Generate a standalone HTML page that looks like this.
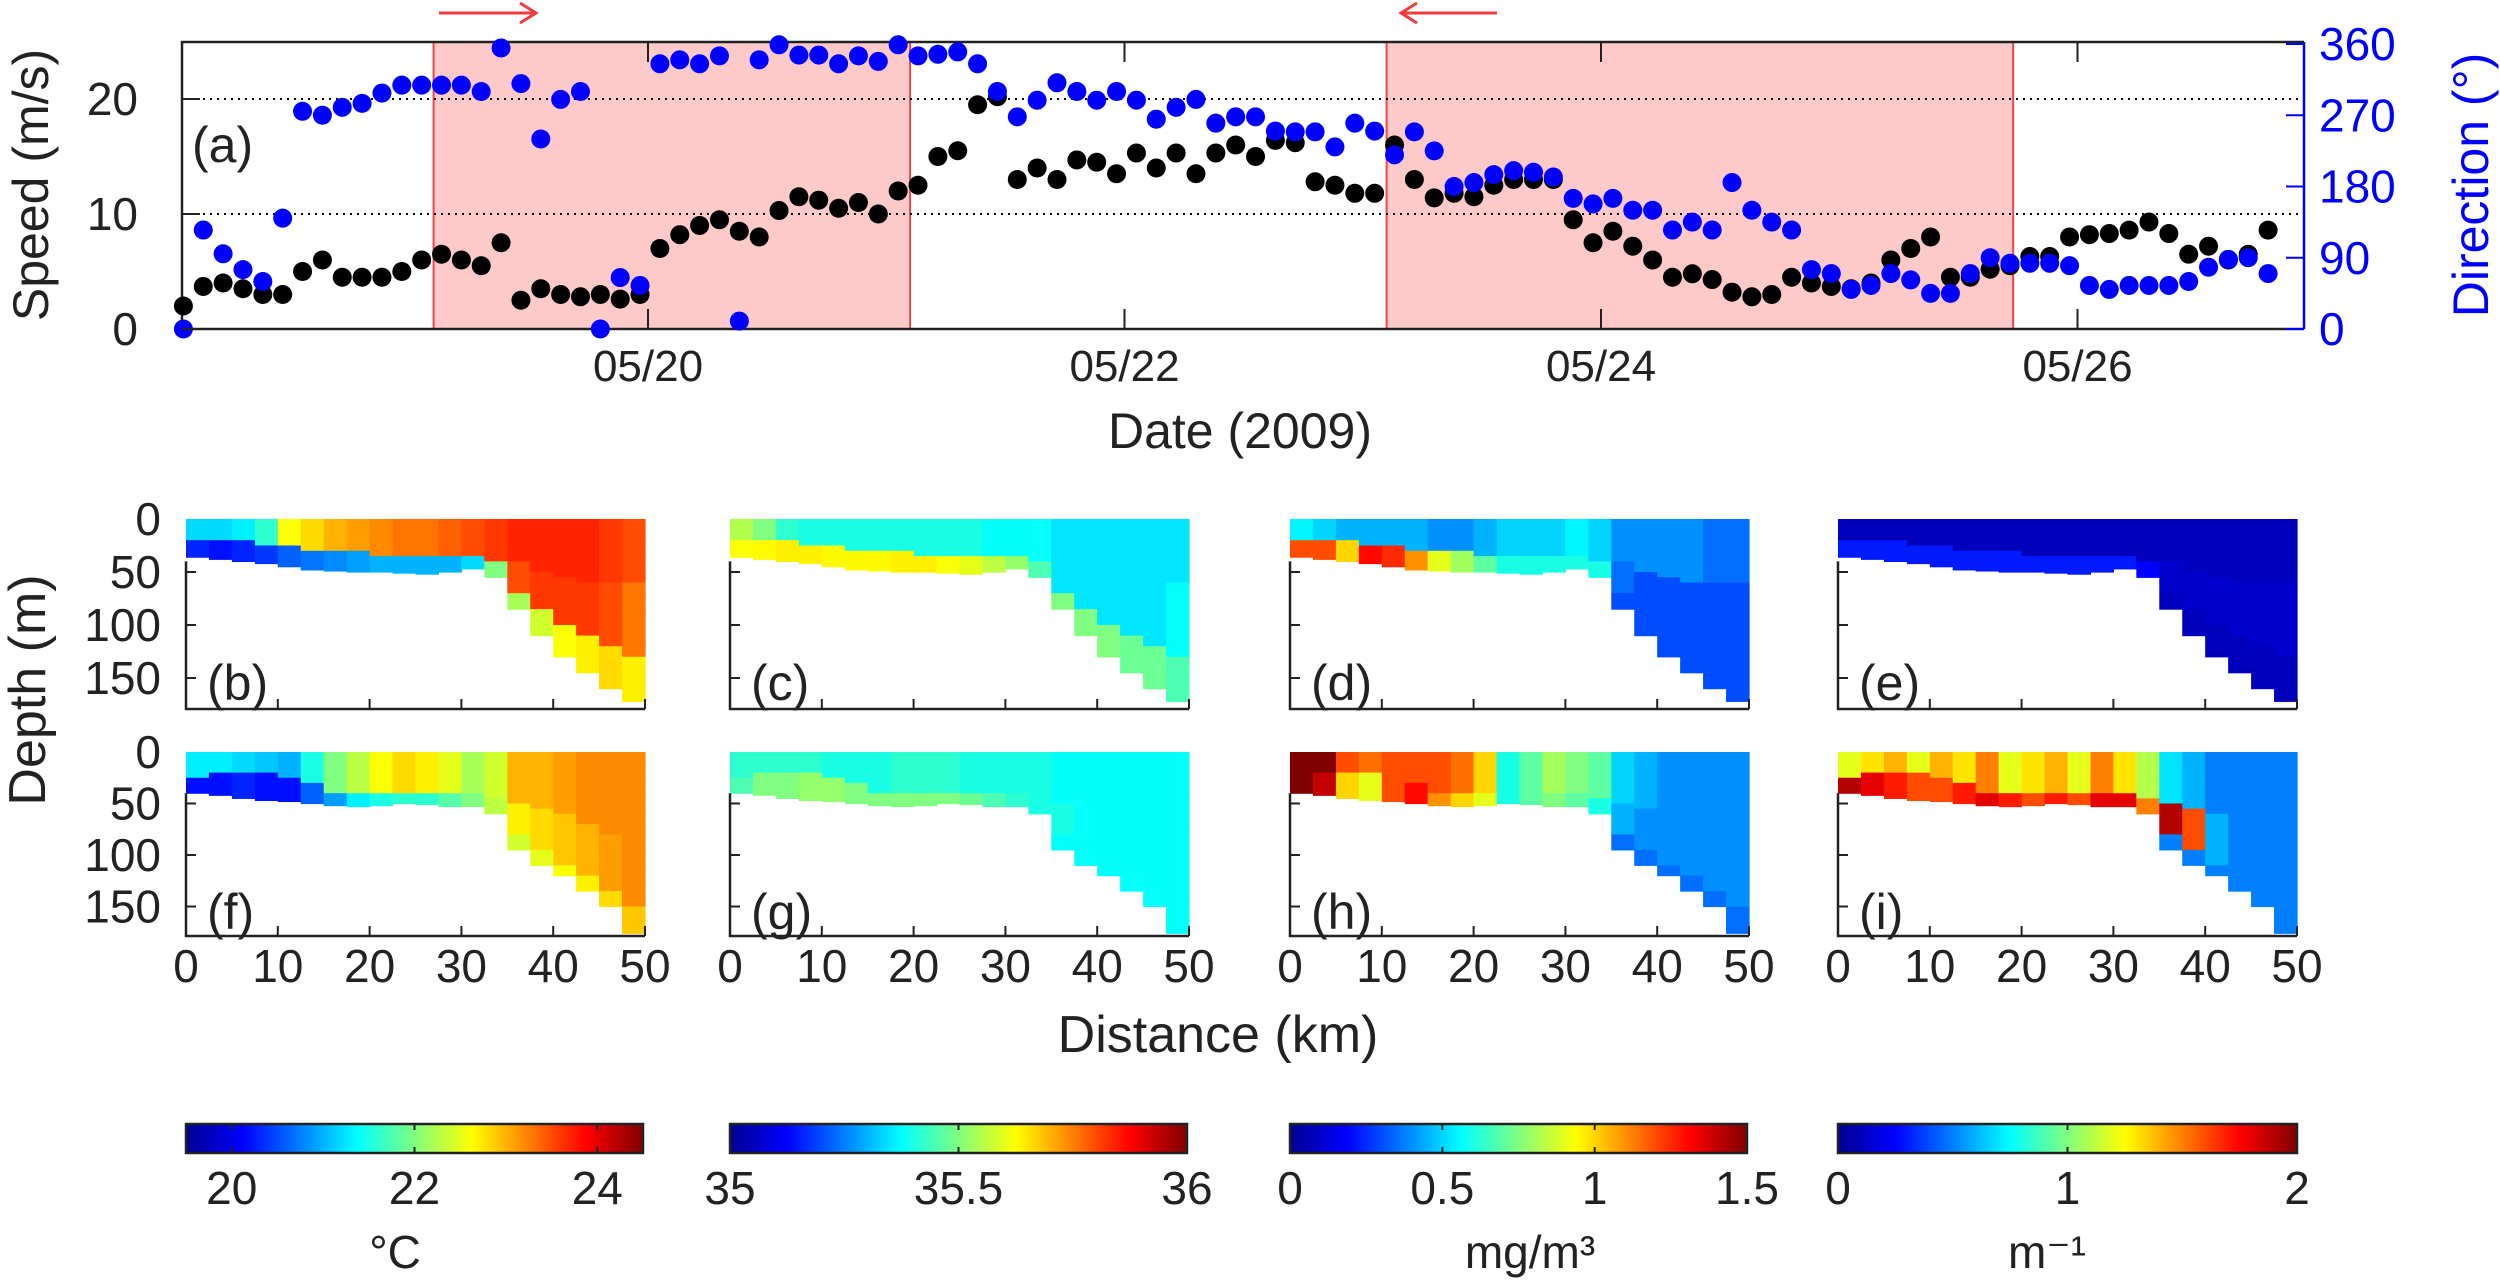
<!DOCTYPE html>
<html><head><meta charset="utf-8">
<style>
html,body{margin:0;padding:0;background:#fff;}
svg{display:block;font-family:"Liberation Sans",Arial,sans-serif;}
</style></head>
<body>
<svg id="fig" width="2500" height="1283" viewBox="0 0 2500 1283" xmlns="http://www.w3.org/2000/svg">
<defs>
<linearGradient id="jet" x1="0" x2="1" y1="0" y2="0">
<stop offset="0" stop-color="#00008f"/><stop offset="0.125" stop-color="#0000ff"/><stop offset="0.375" stop-color="#00ffff"/><stop offset="0.625" stop-color="#ffff00"/><stop offset="0.875" stop-color="#ff0000"/><stop offset="1" stop-color="#800000"/>
</linearGradient>
</defs>
<g id="topPanel"></g>
<g id="sections"></g>
<g id="cbars"></g>
</svg>
<script>
const speedVals = [2,3.7,4,3.5,3,3,5,6,4.5,4.5,4.5,5,6,6.5,6,5.5,7.5,2.5,3.5,3,2.8,3,2.6,3,7,8.2,9,9.5,8.5,8,10.3,11.5,11.2,10.5,11,10,12,12.5,15,15.5,19.5,20.2,13,14,13,14.7,14.5,13.5,15.3,14,15.3,13.5,15.3,16,15,16.4,16.2,12.8,12.5,11.8,11.8,16,13,11.4,11.8,11.5,12.5,13,13,13,9.5,7.5,8.5,7.2,6,4.5,4.8,4.3,3.2,2.8,3,4.5,4,3.7,3.5,4,6,7,8,4.5,4.5,5.2,5.5,6.3,6.3,8,8.2,8.3,8.6,9.3,8.3,6.5,7.2,6,6.5,8.6];
const dirVals = [0,125,95,75,60,140,275,270,280,285,298,308,308,308,308,300,355,310,240,290,300,0,65,55,335,340,335,345,10,340,359,346,346,335,345,338,359,345,347,350,335,300,268,289,311,300,289,300,289,265,280,290,260,268,268,250,249,249,230,260,250,220,249,225,180,185,195,200,198,192,165,158,165,150,150,125,135,125,185,150,135,125,75,70,50,55,70,62,45,45,70,90,83,83,83,80,55,50,55,55,55,60,78,88,90,70];
const dateTicks = [2,4,6,8];
const dateLabels = ["05/20","05/22","05/24","05/26"];
const speedTicks = [0,10,20];
const dirTicks = [0,90,180,270,360];
const shadeStart = [1.1, 5.1];
const shadeEnd = [3.1, 7.73];

const distTicks = [0,10,20,30,40,50];
const depthTicks = [0,50,100,150];
const bathyRow1 = [36,38,40,42,45,48,49,50,50,51,52,50,47,55,85,110,130,145,160,172];
const bathyRow2 = [40,42,45,47,48,50,52,53,52,50,51,53,53,60,95,110,120,135,150,176];
const split1Row1 = [18,20,22,24,26,28,30,32,33,34,35,36,37,38,40,50,55,60,60,60];
const split2Row1 = [999,999,999,999,999,999,999,999,999,999,999,999,999,60,70,85,100,110,120,130];
const split1Row2 = [25,22,20,18,25,32,38,40,42,42,42,42,42,45,50,55,60,70,80,90];
const split2Row2 = [999,999,999,999,999,999,999,999,999,999,999,999,999,65,80,95,110,120,135,150];

const bSurf = [21.2,21.2,21.3,21.6,22.6,22.8,23.0,23.1,23.2,23.3,23.3,23.4,23.5,23.6,23.7,23.7,23.7,23.7,23.6,23.5];
const bMid  = [20.3,20.2,20.3,20.4,20.6,20.7,20.8,20.9,21.0,21.0,21.0,21.0,21.2,22.0,23.5,23.6,23.6,23.6,23.5,23.3];
const bDeep = [20,20,20,20,20,20,20,20,20,20,20,20,20,22.0,22.2,22.4,22.6,22.7,22.8,22.7];
const cSurf = [35.55,35.5,35.42,35.4,35.4,35.4,35.4,35.4,35.4,35.4,35.4,35.38,35.38,35.38,35.35,35.35,35.35,35.35,35.35,35.35];
const cMid  = [35.62,35.63,35.64,35.64,35.63,35.63,35.63,35.64,35.64,35.62,35.6,35.56,35.52,35.45,35.35,35.35,35.35,35.35,35.35,35.38];
const cDeep = [35.4,35.4,35.4,35.4,35.4,35.4,35.4,35.4,35.4,35.4,35.4,35.4,35.4,35.5,35.5,35.5,35.5,35.48,35.48,35.45];
const dSurf = [0.55,0.5,0.45,0.45,0.45,0.45,0.4,0.4,0.45,0.5,0.5,0.5,0.55,0.5,0.4,0.4,0.4,0.4,0.35,0.35];
const dMid  = [1.2,1.2,1.0,1.3,1.25,1.1,0.9,0.8,0.7,0.6,0.6,0.6,0.6,0.6,0.35,0.3,0.3,0.3,0.3,0.3];
const dDeep = [0.3,0.3,0.3,0.3,0.3,0.3,0.3,0.3,0.3,0.3,0.3,0.3,0.3,0.3,0.3,0.3,0.3,0.3,0.3,0.3];
const eSurf = [0.12,0.12,0.12,0.12,0.12,0.12,0.12,0.12,0.12,0.12,0.12,0.12,0.12,0.12,0.12,0.12,0.12,0.12,0.12,0.12];
const eMid  = [0.3,0.3,0.3,0.3,0.3,0.3,0.3,0.3,0.3,0.3,0.3,0.3,0.3,0.25,0.15,0.15,0.15,0.15,0.15,0.15];
const eDeep = [0.12,0.12,0.12,0.12,0.12,0.12,0.12,0.12,0.12,0.12,0.12,0.12,0.12,0.12,0.12,0.12,0.12,0.12,0.12,0.12];
const fSurf = [21.3,21.3,21.2,21.1,21.0,21.5,22.0,22.3,22.6,22.8,22.7,22.5,22.2,22.4,23.0,23.0,23.1,23.2,23.2,23.2];
const fMid  = [20.2,20.2,20.3,20.2,20.2,20.6,20.9,21.3,21.5,21.6,21.6,21.8,22.0,22.3,22.7,22.8,22.9,23.0,23.1,23.2];
const fDeep = [22,22,22,22,22,22,22,22,22,22,22,22,22,22.3,22.4,22.5,22.6,22.7,22.8,22.9];
const gSurf = [35.42,35.42,35.42,35.42,35.4,35.4,35.4,35.42,35.42,35.42,35.4,35.4,35.4,35.4,35.38,35.38,35.38,35.38,35.38,35.38];
const gMid  = [35.45,35.5,35.5,35.52,35.52,35.5,35.5,35.5,35.5,35.5,35.48,35.45,35.42,35.4,35.4,35.38,35.38,35.38,35.38,35.38];
const gDeep = [35.38,35.38,35.38,35.38,35.38,35.38,35.38,35.38,35.38,35.38,35.38,35.38,35.38,35.38,35.38,35.38,35.38,35.38,35.38,35.38];
const hSurf = [1.5,1.5,1.2,1.15,1.2,1.2,1.2,1.15,1.0,0.6,0.7,0.8,0.75,0.7,0.5,0.45,0.4,0.4,0.4,0.4];
const hMid  = [1.5,1.4,1.0,0.9,1.2,1.3,1.1,1.0,0.9,0.6,0.7,0.75,0.7,0.6,0.45,0.4,0.4,0.4,0.4,0.4];
const hDeep = [0.35,0.35,0.35,0.35,0.35,0.35,0.35,0.35,0.35,0.35,0.35,0.35,0.35,0.35,0.35,0.35,0.35,0.35,0.35,0.35];
const iSurf = [1.2,1.3,1.4,1.2,1.4,1.3,1.5,1.2,1.3,1.4,1.2,1.5,1.3,1.1,0.7,0.6,0.5,0.5,0.5,0.5];
const iMid  = [1.9,1.8,1.7,1.6,1.6,1.7,1.8,1.7,1.6,1.7,1.6,1.8,1.8,1.5,1.9,1.6,0.6,0.5,0.5,0.5];
const iDeep = [0.5,0.5,0.5,0.5,0.5,0.5,0.5,0.5,0.5,0.5,0.5,0.5,0.5,0.5,0.5,0.5,0.5,0.5,0.5,0.5];

const cbTickVals1 = [20,22,24];
const cbTickVals2 = [35,35.5,36];
const cbTickVals3 = [0,0.5,1,1.5];
const cbTickVals4 = [0,1,2];

const NS = "http://www.w3.org/2000/svg";
function mk(parent, tag, attrs, text){
  const e = document.createElementNS(NS, tag);
  for (const k in attrs) e.setAttribute(k, attrs[k]);
  if (text !== undefined) e.textContent = text;
  parent.appendChild(e);
  return e;
}
function jet(t){
  t = Math.max(0, Math.min(1, t));
  const c = v => Math.round(255*Math.max(0, Math.min(1, v)));
  return `rgb(${c(1.5-Math.abs(4*t-3))},${c(1.5-Math.abs(4*t-2))},${c(1.5-Math.abs(4*t-1))})`;
}

const topG = document.getElementById('topPanel');
const L = 182, R = 2304, T = 42, B = 329;
const day0 = 0.05, dayPx = 238.25;
const xDay = d => 648 + (d - 2) * dayPx;
const ySpd = v => 329 - v * 11.5;
const yDir = d => 329 - d * (285 / 360);

for (let i = 0; i < shadeStart.length; i++) {
  const x0 = xDay(shadeStart[i]), x1 = xDay(shadeEnd[i]);
  const r = mk(topG, 'rect', {x: x0, y: T, width: x1 - x0, height: B - T, fill: '#fdc9c9', stroke: '#f04848', 'stroke-width': 2});
  
  
}
speedTicks.forEach(v => {
  if (v > 0) {
    const g = mk(topG, 'line', {x1: L, x2: R, y1: ySpd(v), y2: ySpd(v), stroke: '#000', 'stroke-width': 2, 'stroke-dasharray': '2 5'});
    
    
  }
});
const frame = mk(topG, 'path', {d: `M${L} ${B} L${L} ${T} L${R} ${T}`, fill: 'none', stroke: '#222', 'stroke-width': 2.5});


const xb = mk(topG, 'line', {x1: L, x2: R, y1: B, y2: B, stroke: '#222', 'stroke-width': 2.5});


const ra = mk(topG, 'line', {x1: R, x2: R, y1: T, y2: B, stroke: '#0000ff', 'stroke-width': 2.5});



const ar1 = mk(topG, 'path', {d: 'M439 13 L536 13 M520 3 L536 13 L520 23', fill: 'none', stroke: '#f03c3c', 'stroke-width': 3});


const ar2 = mk(topG, 'path', {d: 'M1497 13 L1401 13 M1417 3 L1401 13 L1417 23', fill: 'none', stroke: '#f03c3c', 'stroke-width': 3});



speedVals.forEach((v, k) => {
  const c = mk(topG, 'circle', {cx: xDay(day0 + k / 12), cy: ySpd(v), r: 9.5, fill: '#000'});
  
  
});
dirVals.forEach((v, k) => {
  const c = mk(topG, 'circle', {cx: xDay(day0 + k / 12), cy: yDir(v), r: 9.5, fill: '#0000ff'});
  
  
});

dateTicks.forEach((d, i) => {
  const x = xDay(d);
  const t1 = mk(topG, 'line', {x1: x, x2: x, y1: T, y2: T + 20, stroke: '#222', 'stroke-width': 2});
  
  
  const t2 = mk(topG, 'line', {x1: x, x2: x, y1: B, y2: B - 20, stroke: '#222', 'stroke-width': 2});
  
  
  const lb = mk(topG, 'text', {x: x, y: 381, 'font-size': 44, 'text-anchor': 'middle', fill: '#222'}, dateLabels[i]);
  
  
});
speedTicks.forEach(v => {
  const t = mk(topG, 'line', {x1: L, x2: L + 18, y1: ySpd(v), y2: ySpd(v), stroke: '#222', 'stroke-width': 2});
  
  
  const lb = mk(topG, 'text', {x: 138, y: ySpd(v) + 16, 'font-size': 46, 'text-anchor': 'end', fill: '#222'}, String(v));
  
  
});
dirTicks.forEach(v => {
  const t = mk(topG, 'line', {x1: R, x2: R - 18, y1: yDir(v), y2: yDir(v), stroke: '#0000ff', 'stroke-width': 2});
  
  
  const lb = mk(topG, 'text', {x: 2319, y: yDir(v) + 16, 'font-size': 46, fill: '#0000ff'}, String(v));
  
  
});
const al = mk(topG, 'text', {x: 192, y: 162, 'font-size': 50, fill: '#222'}, '(a)');


const yl = mk(topG, 'text', {x: 48, y: 185, 'font-size': 50, 'text-anchor': 'middle', fill: '#222', transform: 'rotate(-90 48 185)'}, 'Speed (m/s)');


const yr = mk(topG, 'text', {x: 2488, y: 185, 'font-size': 50, 'text-anchor': 'middle', fill: '#0000ff', transform: 'rotate(-90 2488 185)'}, 'Direction (°)');


const xl = mk(topG, 'text', {x: 1240, y: 448, 'font-size': 50, 'text-anchor': 'middle', fill: '#222'}, 'Date (2009)');



const sec = document.getElementById('sections');
const colLeft = [186, 730, 1290, 1838];
const kmPx = 459 / 50;
const rows = [
  {y0: 519, mPx: 1.06, axisB: 709, bathy: bathyRow1, s1: split1Row1, s2: split2Row1, labelY: 700},
  {y0: 752, mPx: 1.03, axisB: 936, bathy: bathyRow2, s1: split1Row2, s2: split2Row2, labelY: 929}
];
const panels = [
  {name: 'b', row: 0, col: 0, surf: bSurf, mid: bMid, deep: bDeep, vmin: 19.5, vmax: 24.5},
  {name: 'c', row: 0, col: 1, surf: cSurf, mid: cMid, deep: cDeep, vmin: 35, vmax: 36},
  {name: 'd', row: 0, col: 2, surf: dSurf, mid: dMid, deep: dDeep, vmin: 0, vmax: 1.5},
  {name: 'e', row: 0, col: 3, surf: eSurf, mid: eMid, deep: eDeep, vmin: 0, vmax: 2},
  {name: 'f', row: 1, col: 0, surf: fSurf, mid: fMid, deep: fDeep, vmin: 19.5, vmax: 24.5},
  {name: 'g', row: 1, col: 1, surf: gSurf, mid: gMid, deep: gDeep, vmin: 35, vmax: 36},
  {name: 'h', row: 1, col: 2, surf: hSurf, mid: hMid, deep: hDeep, vmin: 0, vmax: 1.5},
  {name: 'i', row: 1, col: 3, surf: iSurf, mid: iMid, deep: iDeep, vmin: 0, vmax: 2}
];
const dz = 5, dkm = 2.5;
panels.forEach(p => {
  const rw = rows[p.row];
  const x0 = colLeft[p.col];
  const xk = km => x0 + km * kmPx;
  const yz = z => rw.y0 + z * rw.mPx;
  const g = mk(sec, 'g', {});
  
  
  for (let c = 0; c < rw.bathy.length; c++) {
    const depth = rw.bathy[c];
    for (let z = 0; z < depth; z += dz) {
      const zb = Math.min(depth, z + dz);
      const zc = z + dz / 2;
      const v = zc < rw.s1[c] ? p.surf[c] : (zc < rw.s2[c] ? p.mid[c] : p.deep[c]);
      const cell = mk(g, 'rect', {x: xk(c * dkm), y: yz(z), width: kmPx * dkm + 0.6, height: (zb - z) * rw.mPx + 0.6, fill: jet((v - p.vmin) / (p.vmax - p.vmin))});
      
      
    }
  }
  const ax = mk(g, 'path', {d: `M${x0} ${yz(40)} L${x0} ${rw.axisB} L${xk(50)} ${rw.axisB}`, fill: 'none', stroke: '#222', 'stroke-width': 2.5});
  
  
  distTicks.forEach(km => {
    const t = mk(g, 'line', {x1: xk(km), x2: xk(km), y1: rw.axisB, y2: rw.axisB - 10, stroke: '#222', 'stroke-width': 2});
    
    
    if (p.row === 1) {
      const lb = mk(g, 'text', {x: xk(km), y: 982, 'font-size': 46, 'text-anchor': 'middle', fill: '#222'}, String(km));
      
      
    }
  });
  depthTicks.forEach(z => {
    if (z > 0) {
      const t = mk(g, 'line', {x1: x0, x2: x0 + 10, y1: yz(z), y2: yz(z), stroke: '#222', 'stroke-width': 2});
      
      
    }
    if (p.col === 0) {
      const lb = mk(g, 'text', {x: 161, y: yz(z) + 16, 'font-size': 46, 'text-anchor': 'end', fill: '#222'}, String(z));
      
      
    }
  });
  const pl = mk(g, 'text', {x: x0 + 21, y: rw.labelY, 'font-size': 50, fill: '#222'}, '(' + p.name + ')');
  
  
});
const dl = mk(sec, 'text', {x: 45, y: 690, 'font-size': 52, 'text-anchor': 'middle', fill: '#222', transform: 'rotate(-90 45 690)'}, 'Depth (m)');


const xt = mk(sec, 'text', {x: 1218, y: 1052, 'font-size': 52, 'text-anchor': 'middle', fill: '#222'}, 'Distance (km)');



const cb = document.getElementById('cbars');
const cbs = [
  {x0: 186, x1: 643, vmin: 19.5, vmax: 24.5, ticks: cbTickVals1, unit: '°C', ux: 395, name: 'temperature'},
  {x0: 730, x1: 1187, vmin: 35, vmax: 36, ticks: cbTickVals2, unit: '', ux: 0, name: 'salinity'},
  {x0: 1290, x1: 1747, vmin: 0, vmax: 1.5, ticks: cbTickVals3, unit: 'mg/m³', ux: 1530, name: 'chlorophyll'},
  {x0: 1838, x1: 2297, vmin: 0, vmax: 2, ticks: cbTickVals4, unit: 'm⁻¹', ux: 2047, name: 'attenuation'}
];
cbs.forEach(c => {
  const g = mk(cb, 'g', {});
  
  
  const r = mk(g, 'rect', {x: c.x0, y: 1124, width: c.x1 - c.x0, height: 29, fill: 'url(#jet)', stroke: '#222', 'stroke-width': 2.5});
  
  
  const xv = v => c.x0 + (v - c.vmin) / (c.vmax - c.vmin) * (c.x1 - c.x0);
  c.ticks.forEach(v => {
    const t = mk(g, 'path', {d: `M${xv(v)} 1124 v6 M${xv(v)} 1153 v-6`, stroke: '#222', 'stroke-width': 2});
    
    
    const lb = mk(g, 'text', {x: xv(v), y: 1204, 'font-size': 46, 'text-anchor': 'middle', fill: '#222'}, String(v));
    
    
  });
  if (c.unit) {
    const u = mk(g, 'text', {x: c.ux, y: 1268, 'font-size': 46, 'text-anchor': 'middle', fill: '#222'}, c.unit);
    
    
  }
});
</script>
</body></html>
